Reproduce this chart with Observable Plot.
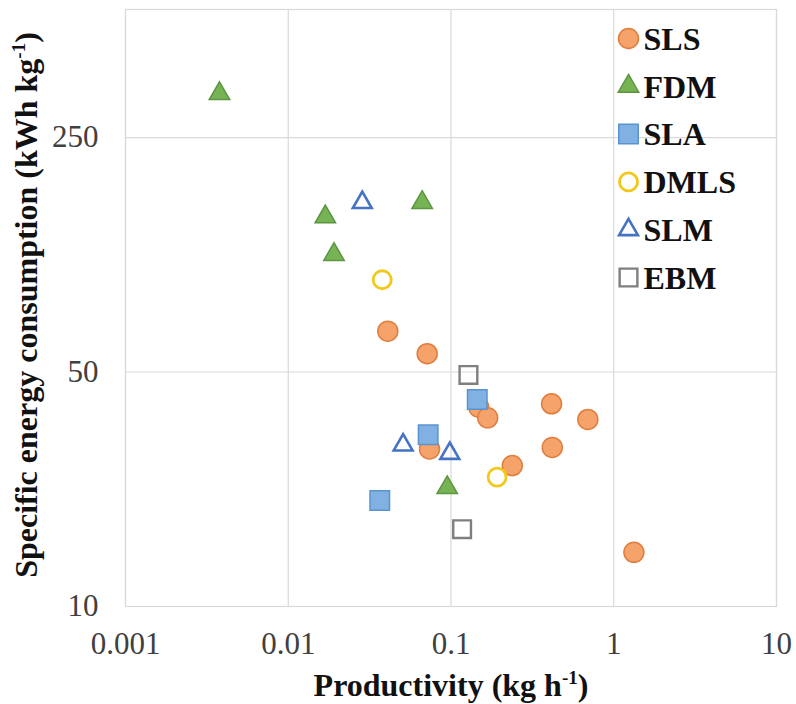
<!DOCTYPE html>
<html><head><meta charset="utf-8">
<script src="https://cdn.jsdelivr.net/npm/d3@7"></script>
<script src="https://cdn.jsdelivr.net/npm/@observablehq/plot@0.6"></script>
<style>
body{margin:0;background:#fff}
#chart{position:relative;width:796px;height:704px}
</style>
</head><body><div id="chart"></div>
<script>
// ---- data ----
const seriesNames = ["SLS", "FDM", "SLA", "DMLS", "SLM", "EBM"];
const slsX = [0.0409, 0.0714, 0.0738, 0.148, 0.168, 0.415, 0.693, 0.419, 0.238, 1.33];
const slsY = [66.2, 56.7, 29.5, 39.3, 36.5, 40.2, 36.1, 29.8, 26.3, 14.5];
const fdmX = [0.00378, 0.0169, 0.0665, 0.0191, 0.0948];
const fdmY = [338, 145, 160, 112, 22.6];
const slaX = [0.0365, 0.0724, 0.145];
const slaY = [20.7, 32.5, 41.4];
const dmlsX = [0.0378, 0.192];
const dmlsY = [94.2, 24.3];
const slmX = [0.0285, 0.0508, 0.0983];
const slmY = [160, 30.3, 28.6];
const ebmX = [0.128, 0.117];
const ebmY = [49.0, 17.0];
const xTicks = [0.001, 0.01, 0.1, 1, 10];
const xTickLabels = ["0.001", "0.01", "0.1", "1", "10"];
const yTicks = [10, 50, 250];
const yTickLabels = ["10", "50", "250"];
const xTitleParts = ["Productivity (kg h", "-1", ")"];
const yTitleParts = ["Specific energy consumption (kWh kg", "-1", ")"];

// ---- build ----
const seriesXY = {SLS: [slsX, slsY], FDM: [fdmX, fdmY], SLA: [slaX, slaY], DMLS: [dmlsX, dmlsY], SLM: [slmX, slmY], EBM: [ebmX, ebmY]};
const rows = seriesNames.flatMap(s => seriesXY[s][0].map((x, i) => ({series: s, x, y: seriesXY[s][1][i]})));

const styles = {
  SLS:  {symbol: "circle",   r: 10,  fill: "#F5A26B", stroke: "#E07E3E", strokeWidth: 1.5},
  FDM:  {symbol: "triangle", r: 7.6, fill: "#77B255", stroke: "#5C9640", strokeWidth: 1.5},
  SLA:  {symbol: "square",   r: 11,  fill: "#80B1E2", stroke: "#5B93CF", strokeWidth: 1.5},
  DMLS: {symbol: "circle",   r: 9,   fill: "none",    stroke: "#F2C81A", strokeWidth: 2.8},
  SLM:  {symbol: "triangle", r: 7,   fill: "none",    stroke: "#4472C4", strokeWidth: 2.6},
  EBM:  {symbol: "square",   r: 10,  fill: "none",    stroke: "#7F7F7F", strokeWidth: 2.4}
};

const fontFamily = "'Liberation Serif','Times New Roman',serif";
const marks = [
  Plot.gridX(xTicks, {stroke: "#d9d9d9", strokeOpacity: 1, strokeWidth: 1.2}),
  Plot.gridY(yTicks, {stroke: "#d9d9d9", strokeOpacity: 1, strokeWidth: 1.2}),
  Plot.frame({stroke: "#d9d9d9", strokeWidth: 1.2}),
  Plot.axisX({ticks: xTicks, tickFormat: d => xTickLabels[xTicks.indexOf(d)], tickSize: 0, tickPadding: 25, fontSize: 31, label: null, fill: "#404040"}),
  Plot.axisY({ticks: yTicks, tickFormat: d => yTickLabels[yTicks.indexOf(d)], tickSize: 0, tickPadding: 27, fontSize: 31, label: null, fill: "#404040"})
];
seriesNames.forEach((s) => {
  const st = styles[s];
  marks.push(Plot.dot(rows.filter(d => d.series === s), {x: "x", y: "y", ...st}));
});
seriesNames.forEach((s, i) => {
  const st = styles[s];
  marks.push(Plot.dot([s], {frameAnchor: "top-left", dx: 503, dy: 29 + i * 47.8, ...st}));
  marks.push(Plot.text([s], {frameAnchor: "top-left", dx: 518, dy: 30 + i * 47.8, text: d => d, textAnchor: "start", lineAnchor: "middle", fontSize: 32, fontWeight: "bold", fill: "#111"}));
});

const chart = Plot.plot({
  width: 796, height: 704,
  marginLeft: 125, marginRight: 20, marginTop: 9, marginBottom: 98,
  style: {fontFamily, background: "#fff", overflow: "visible"},
  x: {type: "log", domain: [0.001, 10]},
  y: {type: "log", domain: [10, 602]},
  marks
});
document.getElementById("chart").appendChild(chart);

// axis titles with superscripts
const svg = d3.select(chart);
function title(g, parts) {
  g.attr("font-family", fontFamily).attr("font-weight", "bold").attr("font-size", 32).attr("fill", "#111").attr("text-anchor", "middle");
  g.append("tspan").text(parts[0]);
  g.append("tspan").attr("font-size", 19).attr("dy", -12).text(parts[1]);
  g.append("tspan").attr("dy", 12).text(parts[2]);
}
title(svg.append("text").attr("x", 451).attr("y", 696), xTitleParts);
title(svg.append("text").attr("transform", "translate(37,305) rotate(-90)"), yTitleParts);
</script>
</body></html>
